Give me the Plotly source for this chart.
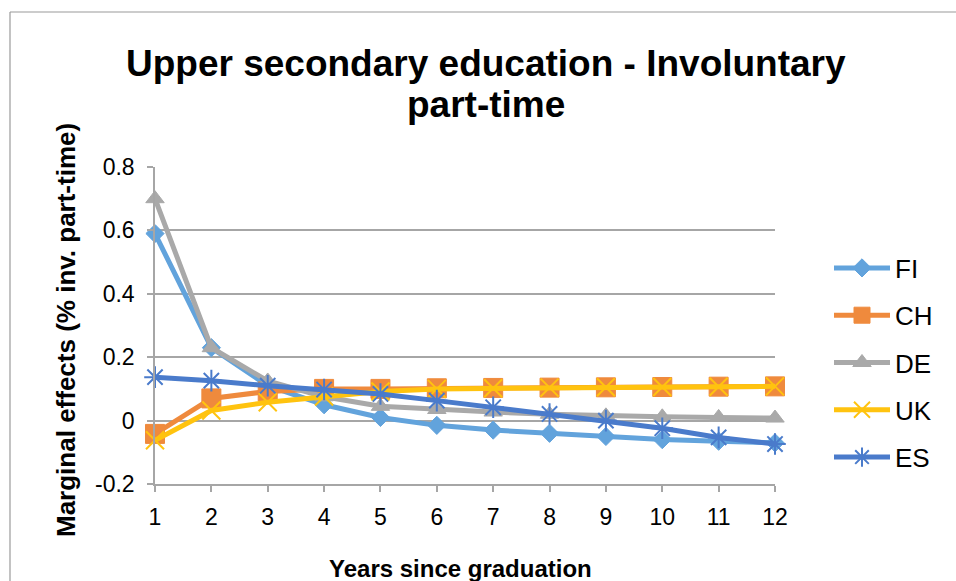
import plotly.graph_objects as go

years = [1, 2, 3, 4, 5, 6, 7, 8, 9, 10, 11, 12]
fi = [0.59, 0.23, 0.11, 0.05, 0.01, -0.015, -0.03, -0.04, -0.05, -0.06, -0.065, -0.07]
ch = [-0.042, 0.07, 0.092, 0.1, 0.1, 0.102, 0.103, 0.104, 0.105, 0.106, 0.107, 0.108]
de = [0.70, 0.23, 0.125, 0.075, 0.045, 0.035, 0.027, 0.02, 0.015, 0.012, 0.01, 0.008]
uk = [-0.062, 0.032, 0.058, 0.076, 0.092, 0.1, 0.102, 0.104, 0.105, 0.106, 0.107, 0.108]
es = [0.137, 0.126, 0.11, 0.098, 0.084, 0.063, 0.042, 0.021, 0.0, -0.024, -0.053, -0.074]
y_ticks = [-0.2, 0, 0.2, 0.4, 0.6, 0.8]
y_ticktext = ["-0.2", "0", "0.2", "0.4", "0.6", "0.8"]

series = [
    ("FI", fi, "#62A3DC", "diamond", 14, 1),
    ("CH", ch, "#EF8A3D", "square", 19, 1),
    ("DE", de, "#A9A9A9", "triangle-up", 16, 1),
    ("UK", uk, "#FFC30F", "x-thin-open", 18, 2),
    ("ES", es, "#4A7BCB", "asterisk-open", 18, 2),
]

fig = go.Figure()
for name, vals, color, sym, size, lw in series:
    fig.add_trace(go.Scatter(
        x=years, y=vals, name=name, mode="lines+markers",
        line=dict(color=color, width=5),
        marker=dict(symbol=sym, size=size, color=color,
                    line=dict(color=color, width=lw)),
        legendgroup=name,
        cliponaxis=False,
    ))

font_family = "Liberation Sans, Arial, Helvetica, sans-serif"

# the page body margin is removed below, so figure pixels equal page pixels
W, H = 956, 581
L, T, PW, PH = 155, 167, 620, 317

def px(xp):
    return (xp - L) / PW

def py(yp):
    return 1 - (yp - T) / PH

fig.update_layout(
    width=W, height=H,
    margin=dict(l=L, r=W - L - PW, t=T, b=H - T - PH),
    paper_bgcolor="white", plot_bgcolor="white",
    font=dict(family=font_family, color="black", size=23),
    showlegend=True,
    legend=dict(
        x=px(829), xanchor="left", y=py(363), yanchor="middle",
        font=dict(size=26, family=font_family),
        tracegroupgap=10.5, bgcolor="rgba(0,0,0,0)", itemwidth=56,
    ),
    xaxis=dict(
        range=[1, 12], tickmode="array", tickvals=years,
        ticktext=[str(v) for v in years],
        showgrid=False, zeroline=False,
        showline=True, linecolor="#A6A6A6", linewidth=1.5,
        ticks="outside", ticklen=6, tickcolor="#A6A6A6", tickwidth=1.5,
        tickfont=dict(size=23), ticklabelstandoff=6,
    ),
    yaxis=dict(
        range=[-0.2, 0.8], tickmode="array", tickvals=y_ticks,
        ticktext=y_ticktext,
        showgrid=True, gridcolor="#A6A6A6", gridwidth=1.5,
        zeroline=False,
        showline=True, linecolor="#A6A6A6", linewidth=1.5,
        ticks="outside", ticklen=6, tickcolor="#A6A6A6", tickwidth=1.5,
        tickfont=dict(size=23), ticklabelstandoff=8,
    ),
)

# title (two lines)
fig.add_annotation(text="<b>Upper secondary education - Involuntary</b>",
                   xref="paper", yref="paper", x=px(486), y=py(63),
                   xanchor="center", yanchor="middle", showarrow=False,
                   font=dict(size=37, family=font_family, color="black"))
fig.add_annotation(text="<b>part-time</b>",
                   xref="paper", yref="paper", x=px(486), y=py(105),
                   xanchor="center", yanchor="middle", showarrow=False,
                   font=dict(size=37, family=font_family, color="black"))
# axis titles
fig.add_annotation(text="<b>Marginal effects (% inv. part-time)</b>",
                   xref="paper", yref="paper", x=px(66), y=py(330),
                   xanchor="center", yanchor="middle", showarrow=False,
                   textangle=-90,
                   font=dict(size=26, family=font_family, color="black"))
fig.add_annotation(text="<b>Years since graduation</b>",
                   xref="paper", yref="paper", x=px(460), y=py(568),
                   xanchor="center", yanchor="middle", showarrow=False,
                   font=dict(size=24, family=font_family, color="black"))

# chart frame (top and left edges visible)
fig.add_shape(type="line", xref="paper", yref="paper",
              x0=px(10), x1=px(970), y0=py(12), y1=py(12),
              line=dict(color="#9A9A9A", width=1.2))
fig.add_shape(type="line", xref="paper", yref="paper",
              x0=px(10), x1=px(10), y0=py(12), y1=py(600),
              line=dict(color="#9A9A9A", width=1.2))

fig.write_html(
    "out.html",
    config={"displayModeBar": False},
    post_script=("document.documentElement.style.overflow='hidden';"
                 "document.body.style.margin='0';"
                 "document.body.style.overflow='hidden';"),
)
